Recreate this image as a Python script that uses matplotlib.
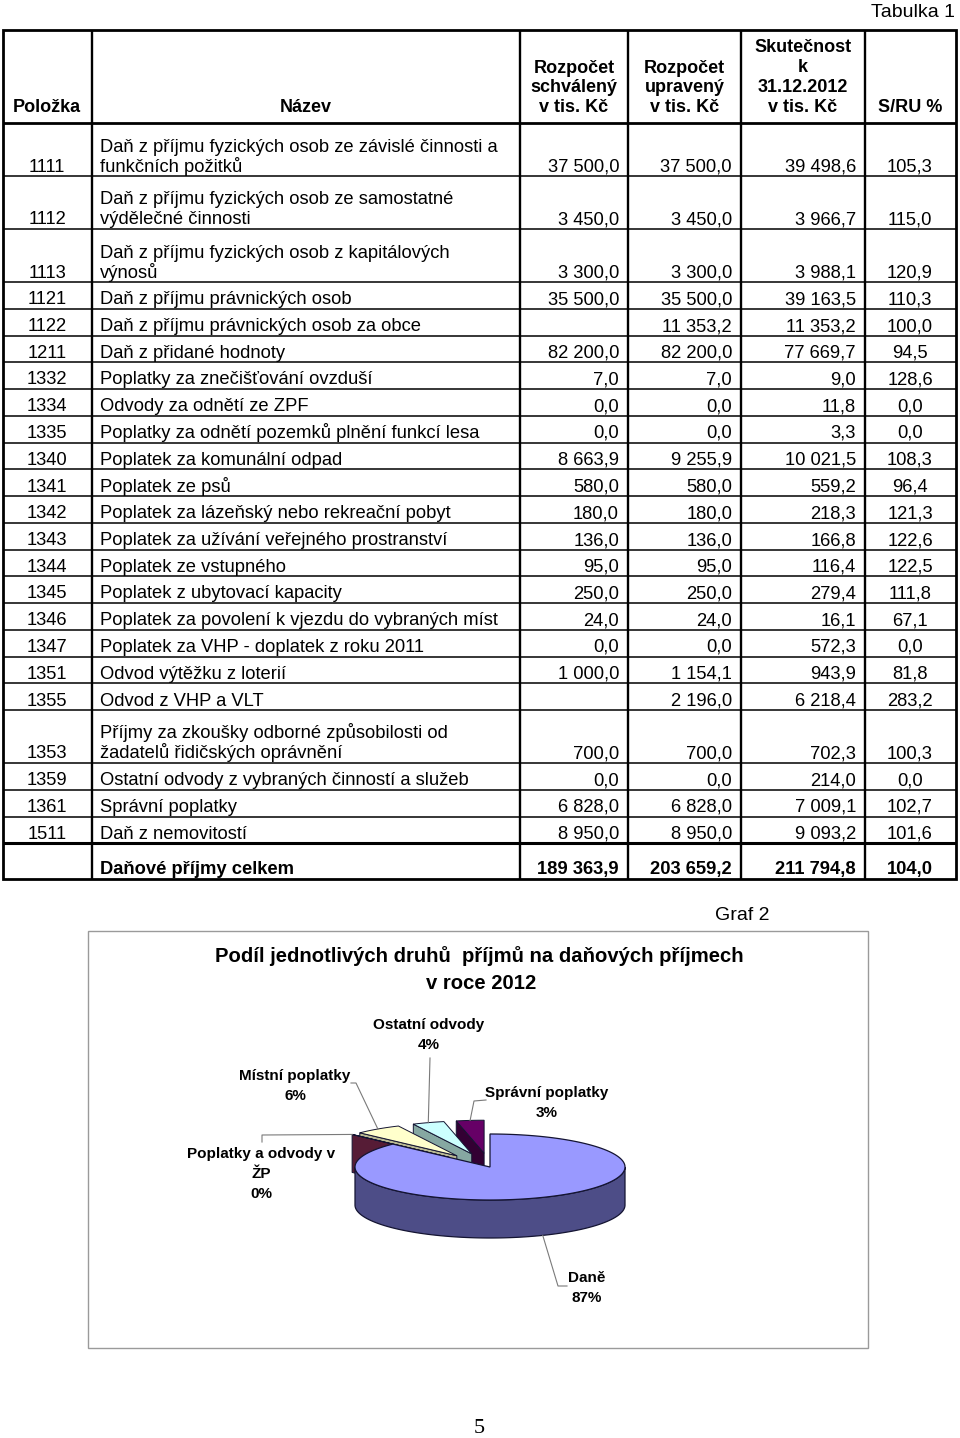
import matplotlib
matplotlib.use('Agg')
import matplotlib.pyplot as plt
from matplotlib.patches import Polygon, Rectangle
import numpy as np

# table data
polozka = ['1111', '1112', '1113', '1121', '1122', '1211', '1332', '1334', '1335',
           '1340', '1341', '1342', '1343', '1344', '1345', '1346', '1347', '1351',
           '1355', '1353', '1359', '1361', '1511']
nazev = ['Daň z příjmu fyzických osob ze závislé činnosti a\nfunkčních požitků',
         'Daň z příjmu fyzických osob ze samostatné\nvýdělečné činnosti',
         'Daň z příjmu fyzických osob z kapitálových\nvýnosů',
         'Daň z příjmu právnických osob',
         'Daň z příjmu právnických osob za obce',
         'Daň z přidané hodnoty',
         'Poplatky za znečišťování ovzduší',
         'Odvody za odnětí ze ZPF',
         'Poplatky za odnětí pozemků plnění funkcí lesa',
         'Poplatek za komunální odpad',
         'Poplatek ze psů',
         'Poplatek za lázeňský nebo rekreační pobyt',
         'Poplatek za užívání veřejného prostranství',
         'Poplatek ze vstupného',
         'Poplatek z ubytovací kapacity',
         'Poplatek za povolení k vjezdu do vybraných míst',
         'Poplatek za VHP - doplatek z roku 2011',
         'Odvod výtěžku z loterií',
         'Odvod z VHP a VLT',
         'Příjmy za zkoušky odborné způsobilosti od\nžadatelů řidičských oprávnění',
         'Ostatní odvody z vybraných činností a služeb',
         'Správní poplatky',
         'Daň z nemovitostí']
schvaleny = [37500.0, 3450.0, 3300.0, 35500.0, None, 82200.0, 7.0, 0.0, 0.0,
             8663.9, 580.0, 180.0, 136.0, 95.0, 250.0, 24.0, 0.0, 1000.0,
             None, 700.0, 0.0, 6828.0, 8950.0]
upraveny = [37500.0, 3450.0, 3300.0, 35500.0, 11353.2, 82200.0, 7.0, 0.0, 0.0,
            9255.9, 580.0, 180.0, 136.0, 95.0, 250.0, 24.0, 0.0, 1154.1,
            2196.0, 700.0, 0.0, 6828.0, 8950.0]
skutecnost = [39498.6, 3966.7, 3988.1, 39163.5, 11353.2, 77669.7, 9.0, 11.8, 3.3,
              10021.5, 559.2, 218.3, 166.8, 116.4, 279.4, 16.1, 572.3, 943.9,
              6218.4, 702.3, 214.0, 7009.1, 9093.2]
s_ru = [105.3, 115.0, 120.9, 110.3, 100.0, 94.5, 128.6, 0.0, 0.0, 108.3, 96.4,
        121.3, 122.6, 122.5, 111.8, 67.1, 0.0, 81.8, 283.2, 100.3, 0.0, 102.7, 101.6]
celkem = [189363.9, 203659.2, 211794.8, 104.0]

# pie data (thousand CZK, from the table)
pie_names = ['Daně', 'Poplatky a odvody v\nŽP', 'Místní poplatky', 'Ostatní odvody', 'Správní poplatky']
pie_values = [184733.0, 24.1, 11949.9, 8078.6, 7009.1]
pie_top = ['#9999FF', '#993366', '#FFFFCC', '#CCFFFF', '#660066']
pie_side = ['#4D4D87', '#561C36', '#B9B993', '#86A8A2', '#330033']

SANS = ['Liberation Sans', 'DejaVu Sans']

W, H = 960, 1438
fig = plt.figure(figsize=(W / 100, H / 100), dpi=100)
ax = fig.add_axes([0, 0, 1, 1])
ax.set_xlim(0, W)
ax.set_ylim(H, 0)
ax.axis('off')


def fmt(v):
    if v is None:
        return ''
    return f'{v:,.1f}'.replace(',', ' ').replace('.', ',')


def lines_up(x, base, text, step, **kw):
    # bottom aligned block, one text call per line
    parts = text.split('\n')
    n = len(parts)
    for k, p in enumerate(parts):
        ax.text(x, base - step * (n - 1 - k), p, va='baseline', **kw)


# ---- table ----
cols = [3, 92, 520, 628, 741, 865, 956]
top = 30
head_bot = 123
one = 26.75

ax.text(955, 17, 'Tabulka 1', ha='right', va='baseline', fontsize=14, family=SANS)

hkw = dict(fontsize=13, family=SANS, weight='bold', ha='center')
lines_up(47, 112, 'Položka', 19.5, **hkw)
lines_up(306, 112, 'Název', 19.5, **hkw)
lines_up(574, 112, 'Rozpočet\nschválený\nv tis. Kč', 19.5, **hkw)
lines_up(684.5, 112, 'Rozpočet\nupravený\nv tis. Kč', 19.5, **hkw)
lines_up(803, 112, 'Skutečnost\nk\n31.12.2012\nv tis. Kč', 20, **hkw)
lines_up(910, 112, 'S/RU %', 19.5, **hkw)

bkw = dict(fontsize=13.2, family=SANS)
y = head_bot
for i in range(len(polozka)):
    n = nazev[i].count('\n') + 1
    h = one if n == 1 else 53
    b = y + h
    base = b - 4.5
    lines_up(47, base, polozka[i], 20, ha='center', **bkw)
    lines_up(100, base, nazev[i], 20, ha='left', **bkw)
    ax.text(cols[3] - 9, base, fmt(schvaleny[i]), ha='right', va='baseline', **bkw)
    ax.text(cols[4] - 9, base, fmt(upraveny[i]), ha='right', va='baseline', **bkw)
    ax.text(cols[5] - 9, base, fmt(skutecnost[i]), ha='right', va='baseline', **bkw)
    ax.text(910, base, fmt(s_ru[i]), ha='center', va='baseline', **bkw)
    if i < len(polozka) - 1:
        ax.plot([cols[0], cols[-1]], [b, b], color='black', lw=1.1, solid_capstyle='butt')
    y = b

tot_top = y
tot_bot = y + 36
base = tot_bot - 5
tkw = dict(fontsize=13.2, family=SANS, weight='bold', va='baseline')
ax.text(100, base, 'Daňové příjmy celkem', ha='left', **tkw)
ax.text(cols[3] - 9, base, fmt(celkem[0]), ha='right', **tkw)
ax.text(cols[4] - 9, base, fmt(celkem[1]), ha='right', **tkw)
ax.text(cols[5] - 9, base, fmt(celkem[2]), ha='right', **tkw)
ax.text(910, base, fmt(celkem[3]), ha='center', **tkw)

ax.plot([cols[0], cols[-1]], [head_bot, head_bot], color='black', lw=2.0, solid_capstyle='butt')
ax.plot([cols[0], cols[-1]], [tot_top, tot_top], color='black', lw=2.2, solid_capstyle='butt')
for c in cols[1:-1]:
    ax.plot([c, c], [top, tot_bot], color='black', lw=1.7, solid_capstyle='butt')
ax.add_patch(Rectangle((cols[0], top), cols[-1] - cols[0], tot_bot - top,
                       fill=False, ec='black', lw=2.0))

# ---- graph ----
ax.text(742, 920, 'Graf 2', ha='center', va='baseline', fontsize=14, family=SANS)
ax.add_patch(Rectangle((88, 931), 868 - 88, 1348 - 931, fill=False, ec='#9a9a9a', lw=1.0))

ckw = dict(family=SANS, weight='bold', ha='center')
ax.text(479, 962, 'Podíl jednotlivých druhů  příjmů na daňových příjmech', va='baseline',
        fontsize=14.6, **ckw)
ax.text(481, 989, 'v roce 2012', va='baseline', fontsize=14.6, **ckw)

cx, cy, rx, ry, depth = 490, 1167, 135, 33, 38
explode = [0, 0.42, 0.42, 0.42, 0.42]

vals = np.array(pie_values)
fracs = vals / vals.sum()
spans = fracs * 360
hi_ang = 90 - np.concatenate([[0], np.cumsum(spans)[:-1]])
lo_ang = hi_ang - spans


def rim(th, ox, oy, dz=0.0):
    t = np.radians(th)
    return np.column_stack([cx + ox + rx * np.cos(t), cy + oy - ry * np.sin(t) + dz])


offs = []
for i in range(len(vals)):
    bis = np.radians((hi_ang[i] + lo_ang[i]) / 2)
    offs.append((explode[i] * rx * np.cos(bis), -explode[i] * ry * np.sin(bis)))

edge = '#141432'
# back slices first (small exploded ones), then the big one in front
for i in range(len(vals) - 1, 0, -1):
    ox, oy = offs[i]
    A = np.array([[cx + ox, cy + oy]])
    r_hi = rim([hi_ang[i]], ox, oy)
    face = np.vstack([A, r_hi, r_hi + [0, depth], A + [0, depth]])
    ax.add_patch(Polygon(face, closed=True, fc=pie_side[i], ec=edge, lw=0.7))
    th = np.linspace(lo_ang[i], hi_ang[i], 40)
    ax.add_patch(Polygon(np.vstack([A, rim(th, ox, oy)]), closed=True,
                         fc=pie_top[i], ec=edge, lw=0.7))

ox, oy = offs[0]
th = np.linspace(-180, 0, 200)
side = np.vstack([rim(th, ox, oy), rim(th[::-1], ox, oy, depth)])
ax.add_patch(Polygon(side, closed=True, fc=pie_side[0], ec=edge, lw=0.9))
th = np.linspace(lo_ang[0], hi_ang[0], 300)
ax.add_patch(Polygon(np.vstack([[cx + ox, cy + oy], rim(th, ox, oy)]), closed=True,
                     fc=pie_top[0], ec=edge, lw=0.9))

# labels + leader lines
lab_x = [587, 261, 295, 429, 547]
lab_base = [1282, 1158, 1080, 1029, 1097]
lead = [[(567, 1286), (558, 1286)],
        [(262, 1142), (262, 1135)],
        [(351, 1083), (356, 1083)],
        [(430, 1058)],
        [(486, 1100), (474, 1101)]]
for i in range(len(vals)):
    pct = f'{round(fracs[i] * 100):.0f}%'
    parts = (pie_names[i] + '\n' + pct).split('\n')
    for k, p in enumerate(parts):
        ax.text(lab_x[i], lab_base[i] + 19.8 * k, p, va='baseline', fontsize=11, **ckw)
    bis = (hi_ang[i] + lo_ang[i]) / 2
    dz = depth if i == 0 else 0
    end = rim([bis], offs[i][0], offs[i][1], dz)[0]
    pts = np.array(lead[i] + [tuple(end)])
    ax.plot(pts[:, 0], pts[:, 1], color='#7a7a7a', lw=0.8)

ax.text(479, 1433, '5', ha='center', va='baseline', fontsize=16, family=['Liberation Serif', 'DejaVu Serif'])

fig.savefig('out.png', dpi=100)
